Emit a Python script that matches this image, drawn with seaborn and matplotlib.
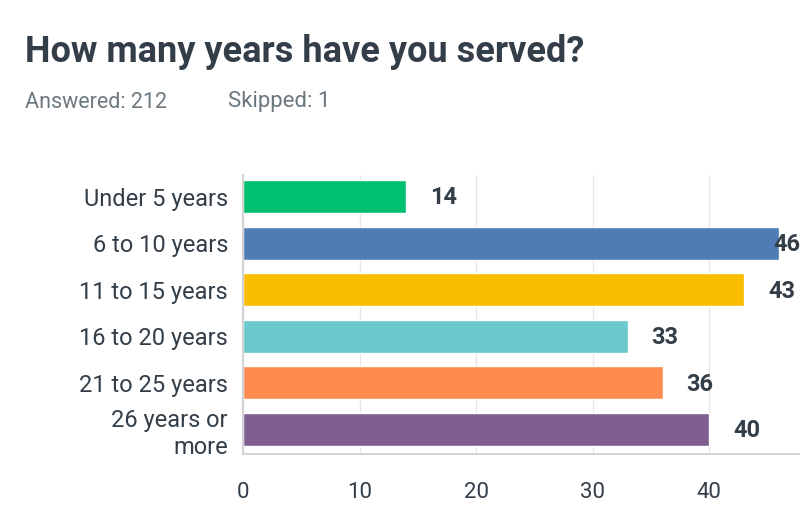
import matplotlib
matplotlib.use("Agg")
import matplotlib.pyplot as plt
import matplotlib.transforms as mtransforms
import seaborn as sns

categories = ["Under 5 years", "6 to 10 years", "11 to 15 years",
              "16 to 20 years", "21 to 25 years", "26 years or\nmore"]
counts = [14, 46, 43, 33, 36, 40]
bar_colors = ["#00bf6f", "#507cb6", "#f9be00", "#6bc8cd", "#ff8b4f", "#7f5f90"]

title = "How many years have you served?"
answered = "Answered: 212"
skipped = "Skipped: 1"

dark = "#333e48"
grey = "#6b787f"


def main():
    sns.set_style("white")
    plt.rcParams["font.family"] = ["Roboto", "DejaVu Sans"]

    fig = plt.figure(figsize=(8, 5.18), dpi=100)
    ax = fig.add_axes([0.304, 0.124, 0.696, 0.538])

    sns.barplot(x=counts, y=categories, hue=categories, palette=bar_colors,
                legend=False, width=0.71, orient="h", saturation=1, ax=ax)

    ax.set_xlim(0, 47.8)
    ax.set_ylim(5.52, -0.46)
    ax.set_xticks([0, 10, 20, 30, 40])
    ax.xaxis.grid(True, color="#e6e6e6", linewidth=1)
    ax.set_axisbelow(True)
    for side in ["top", "right"]:
        ax.spines[side].set_visible(False)
    for side in ["left", "bottom"]:
        ax.spines[side].set_color("#d3d3d3")
        ax.spines[side].set_linewidth(1.5)

    ax.tick_params(axis="x", length=0, pad=20, labelsize=16, labelcolor=dark)
    ax.tick_params(axis="y", length=0, pad=11, labelsize=17, labelcolor=dark)
    for lbl in ax.get_yticklabels():
        lbl.set_linespacing(1.2)
    ax.set_xlabel("")
    ax.set_ylabel("")

    # value labels; the one that would run off the edge is pulled back inside
    edge = mtransforms.blended_transform_factory(ax.transAxes, ax.transData)
    for i, v in enumerate(counts):
        if v > 44:
            ax.text(1.0, i + 0.03, str(v), transform=edge, ha="right", va="center",
                    fontsize=17, fontweight="bold", color=dark)
        else:
            ax.annotate(str(v), (v, i + 0.03), xytext=(24, 0), textcoords="offset pixels",
                        ha="left", va="center", fontsize=17, fontweight="bold",
                        color=dark)

    fig.text(25 / 800, 1 - 52 / 518, title, fontsize=26, fontweight="bold",
             color=dark, va="center", ha="left")
    fig.text(25 / 800, 1 - 102 / 518, answered, fontsize=15.5, color=grey,
             va="center", ha="left")
    fig.text(228 / 800, 1 - 102 / 518, skipped, fontsize=16, color=grey,
             va="center", ha="left")

    fig.savefig("out.png", dpi=100)


if __name__ == "__main__":
    main()
